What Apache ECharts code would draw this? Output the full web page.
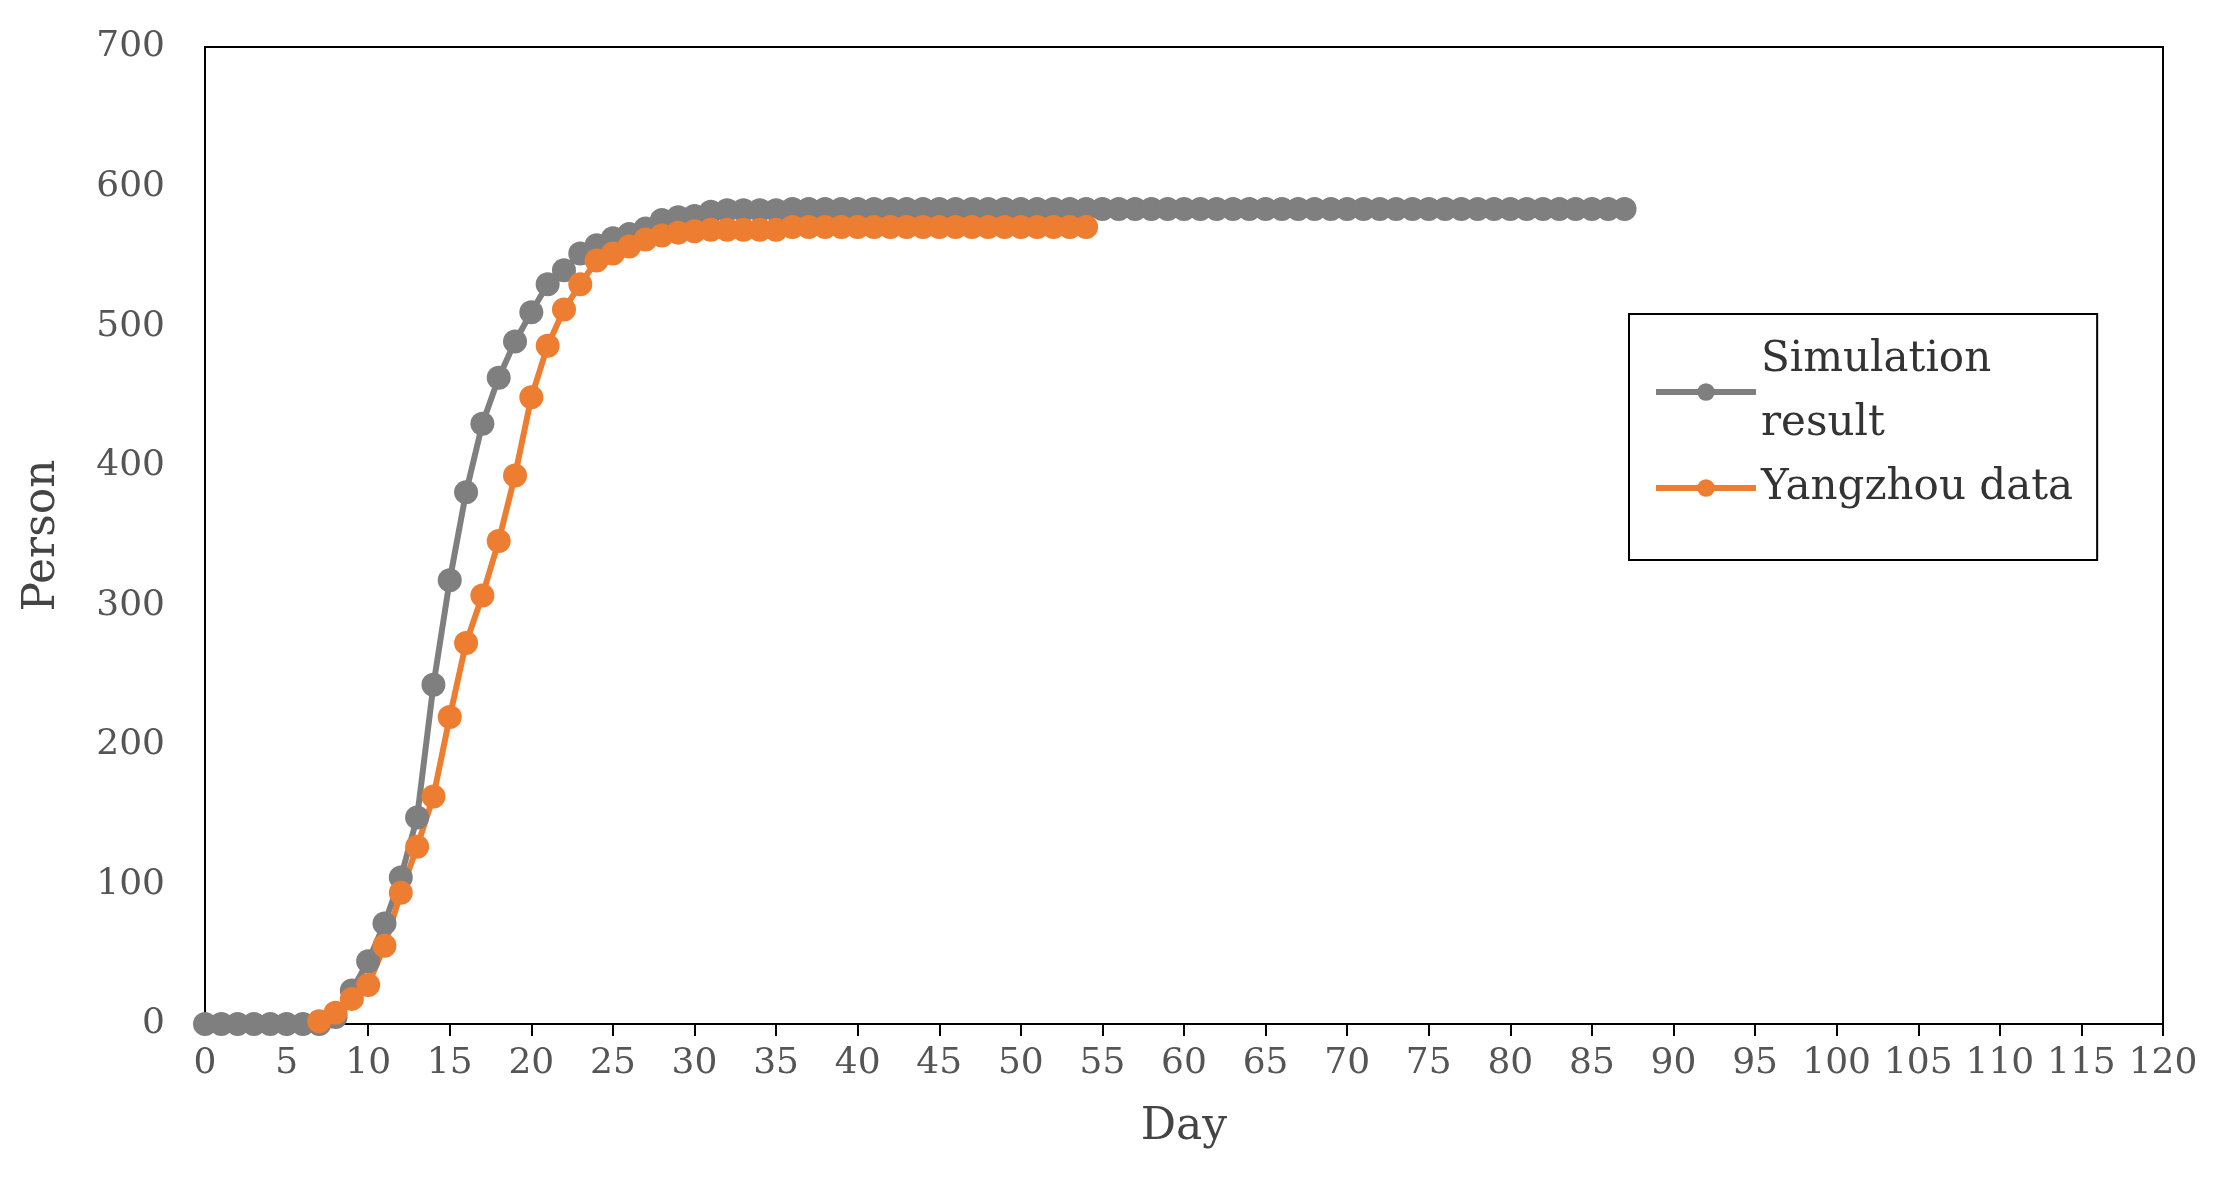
<!DOCTYPE html>
<html><head><meta charset="utf-8">
<script src="https://cdn.jsdelivr.net/npm/echarts@6/dist/echarts.min.js"></script>
<style>html,body{margin:0;padding:0;background:#fff}#c{width:2217px;height:1204px}</style>
</head><body><div id="c"></div>
<script>
const simDays = [];
for (let d = 0; d <= 87; d++) simDays.push(d);
const simValues = [0,0,0,0,0,0,0,0,5,24,45,72,105,148,243,318,381,430,463,489,510,530,540,552,558,563,566,570,576,578,579,582,583,583,583,583,
584,584,584,584,584,584,584,584,584,584,584,584,584,584,584,584,584,584,584,584,584,584,584,584,584,584,584,584,584,584,584,584,584,584,584,584,584,584,584,584,584,584,584,584,584,584,584,584,584,584,584,584];
const yzDays = [];
for (let d = 7; d <= 54; d++) yzDays.push(d);
const yzValues = [2,8,18,28,56,94,127,163,220,273,307,346,393,449,486,512,530,547,552,557,562,565,567,568,569,569,569,569,569,
571,571,571,571,571,571,571,571,571,571,571,571,571,571,571,571,571,571,571];
const xTicks = {min:0, max:120, interval:5};
const yTicks = {min:0, max:700, interval:100};

const F = 'DejaVu Serif';
const chart = echarts.init(document.getElementById('c'));
chart.setOption({
  animation:false,
  grid:{left:205, right:54, top:47, bottom:180, show:true, borderColor:'#000', borderWidth:2},
  legend:{
    left:1629, top:314, orient:'vertical',
    padding:[14,24,40,24], itemGap:0,
    borderColor:'#000', borderWidth:2,
    itemWidth:100, itemHeight:22,
    lineStyle:{width:6},
    textStyle:{fontFamily:F, fontSize:42, color:'#333', lineHeight:64},
    data:['Simulation result','Yangzhou data'],
    formatter: n => n === 'Simulation result' ? 'Simulation\nresult' : n
  },
  xAxis:{type:'value', min:xTicks.min, max:xTicks.max, interval:xTicks.interval,
    name:'Day', nameLocation:'middle', nameGap:82,
    nameTextStyle:{fontFamily:F, fontSize:44, color:'#444'},
    axisLine:{lineStyle:{color:'#000', width:2}},
    axisTick:{show:true, length:12, lineStyle:{color:'#000', width:2}},
    axisLabel:{fontFamily:F, fontSize:36, color:'#555', margin:22},
    splitLine:{show:false}},
  yAxis:{type:'value', min:yTicks.min, max:yTicks.max, interval:yTicks.interval,
    name:'Person', nameLocation:'middle', nameGap:140,
    nameTextStyle:{fontFamily:F, fontSize:44, color:'#444'},
    axisLine:{show:true, lineStyle:{color:'#000', width:2}},
    axisTick:{show:false},
    axisLabel:{fontFamily:F, fontSize:36, color:'#555', margin:40},
    splitLine:{show:false}},
  series:[
    {name:'Simulation result', type:'line', data:simDays.map((d,i)=>[d,simValues[i]]),
     symbol:'circle', symbolSize:24, lineStyle:{color:'#7f7f7f', width:6},
     itemStyle:{color:'#7f7f7f'}},
    {name:'Yangzhou data', type:'line', data:yzDays.map((d,i)=>[d,yzValues[i]]),
     symbol:'circle', symbolSize:24, lineStyle:{color:'#ed7d31', width:6},
     itemStyle:{color:'#ed7d31'}}
  ]
});
</script></body></html>
